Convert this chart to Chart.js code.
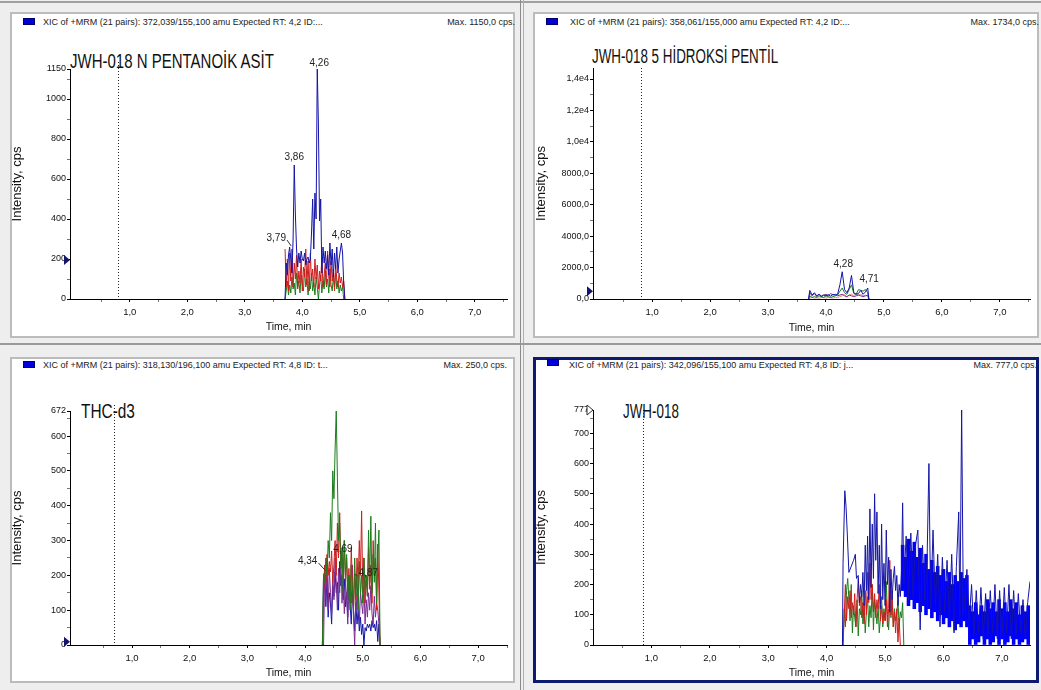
<!DOCTYPE html>
<html>
<head>
<meta charset="utf-8">
<script src="https://cdn.jsdelivr.net/npm/chart.js@4.4.0/dist/chart.umd.min.js"></script>
<style>
  body { margin:0; width:1041px; height:690px; overflow:hidden; position:relative; background:#eeeeee; font-family:"Liberation Sans", Arial, sans-serif; }
  .panel { position:absolute; box-sizing:border-box; background:#fff; border:2px solid #bcbcbc; }
  .panel.sel { border:3px solid #0d1a70; }
  .sq { position:absolute; width:12px; height:7px; box-sizing:border-box; background:#0000dd; border:1px solid #00006a; }
  .hdr { position:absolute; font-size:9px; line-height:10px; color:#222; white-space:nowrap; }
  .name { position:absolute; font-size:20px; line-height:20px; color:#111; white-space:nowrap; transform-origin:0 0; }
  .sep { position:absolute; background:#8a8a8a; }
  canvas { position:absolute; }
</style>
</head>
<body>
<div class="sep" style="left:0;top:1px;width:1041px;height:2px;background:#a0a0a0"></div>
<div class="sep" style="left:520px;top:0;width:1px;height:690px"></div>
<div class="sep" style="left:523px;top:0;width:1px;height:690px;background:#b0b0b0"></div>
<div class="sep" style="left:0;top:343px;width:1041px;height:2px;background:#9a9a9a"></div>

<div class="panel" style="left:10px;top:12px;width:505px;height:326px"></div>
<div class="panel" style="left:533px;top:12px;width:506px;height:326px"></div>
<div class="panel" style="left:10px;top:357px;width:505px;height:326px"></div>
<div class="panel sel" style="left:533px;top:357px;width:506px;height:326px"></div>

<div class="sq" style="left:23px;top:18px"></div>
<div class="hdr" style="left:43px;top:17px">XIC of +MRM (21 pairs): 372,039/155,100 amu Expected RT: 4,2 ID:...</div>
<div class="hdr" style="right:526px;top:17px">Max. 1150,0 cps.</div>
<div class="name" style="left:70px;top:51px;transform:scaleX(0.75)">JWH-018 N PENTANOİK ASİT</div>

<div class="sq" style="left:546px;top:18px"></div>
<div class="hdr" style="left:570px;top:17px">XIC of +MRM (21 pairs): 358,061/155,000 amu Expected RT: 4,2 ID:...</div>
<div class="hdr" style="right:2px;top:17px">Max. 1734,0 cps.</div>
<div class="name" style="left:592px;top:46px;transform:scaleX(0.67)">JWH-018 5 HİDROKSİ PENTİL</div>

<div class="sq" style="left:23px;top:361px"></div>
<div class="hdr" style="left:43px;top:360px">XIC of +MRM (21 pairs): 318,130/196,100 amu Expected RT: 4,8 ID: t...</div>
<div class="hdr" style="right:534px;top:360px">Max. 250,0 cps.</div>
<div class="name" style="left:81px;top:401px;transform:scaleX(0.77)">THC-d3</div>

<div class="sq" style="left:547px;top:359px"></div>
<div class="hdr" style="left:569px;top:360px">XIC of +MRM (21 pairs): 342,096/155,100 amu Expected RT: 4,8 ID: j...</div>
<div class="hdr" style="right:4px;top:360px">Max. 777,0 cps.</div>
<div class="name" style="left:623px;top:401px;transform:scaleX(0.67)">JWH-018</div>

<canvas id="c1" width="505" height="326" style="left:10px;top:12px"></canvas>
<canvas id="c2" width="506" height="326" style="left:533px;top:12px"></canvas>
<canvas id="c3" width="505" height="326" style="left:10px;top:357px"></canvas>
<canvas id="c4" width="506" height="326" style="left:533px;top:357px"></canvas>

<script>
// Axis ticks shared by all panels
const xTicks = [0.5, 1, 1.5, 2, 2.5, 3, 3.5, 4, 4.5, 5, 5.5, 6, 6.5, 7, 7.5];
const xLabels = ['', '1,0', '', '2,0', '', '3,0', '', '4,0', '', '5,0', '', '6,0', '', '7,0', ''];

// Panel 1: JWH-018 N pentanoik asit
const p1Time = [3.70,3.72,3.74,3.76,3.78,3.80,3.82,3.84,3.86,3.88,3.90,3.92,3.94,3.96,3.98,4.00,4.02,4.04,4.06,4.08,4.10,4.12,4.14,4.16,4.18,4.20,4.22,4.24,4.26,4.28,4.30,4.32,4.34,4.36,4.38,4.40,4.42,4.44,4.46,4.48,4.50,4.52,4.54,4.56,4.58,4.60,4.62,4.64,4.66,4.68,4.70,4.72,4.74];
const p1Blue = [0,180,120,220,260,200,130,300,670,420,250,160,230,180,240,200,190,230,170,200,210,180,200,330,500,250,530,400,1150,880,390,500,130,260,180,240,150,220,120,280,170,250,110,230,150,260,130,200,240,280,230,80,0];
const p1Red = [250,60,200,40,230,90,250,60,180,100,220,50,140,80,200,40,160,110,250,70,190,40,230,90,150,60,200,100,170,50,140,90,210,60,120,180,70,240,110,60,190,90,150,40,170,100,60,130,80,110,60,90,0];
const p1Green = [0,40,90,20,70,30,110,50,80,20,130,60,90,30,120,70,40,150,60,100,20,90,50,130,40,80,20,110,60,0,70,120,30,90,50,140,60,100,30,150,70,40,110,60,130,50,90,30,70,40,60,0,0];
const p1YTicks = [0,100,200,300,400,500,600,700,800,900,1000,1100,1150];
const p1YLabels = ['0','','200','','400','','600','','800','','1000','','1150'];
const p1PeakTimes = [4.26, 3.86, 3.79, 4.68];
const p1PeakValues = [1150, 670, 260, 280];
const p1PeakTexts = ['4,26', '3,86', '3,79', '4,68'];

// Panel 2: JWH-018 5 hidroksi pentil
const p2Time = [3.70,3.72,3.76,3.80,3.84,3.88,3.92,3.96,4.00,4.04,4.08,4.12,4.16,4.20,4.24,4.28,4.32,4.36,4.40,4.44,4.48,4.52,4.56,4.60,4.64,4.68,4.72,4.74];
const p2Blue = [0,550,250,400,200,300,150,250,200,280,180,300,250,300,900,1734,600,400,700,1500,400,300,350,550,300,450,700,0];
const p2Purple = [0,400,200,350,150,300,200,250,300,200,350,250,300,200,250,300,200,150,250,200,150,200,250,200,150,200,250,0];
const p2Green = [0,200,100,150,100,200,150,100,200,150,100,150,200,250,500,700,400,300,600,900,350,300,600,550,500,600,400,0];
const p2Pink = [0,50,100,60,80,50,100,80,60,100,80,60,100,80,150,200,300,100,250,300,200,350,250,300,200,250,150,0];
const p2YTicks = [0,1000,2000,3000,4000,5000,6000,7000,8000,9000,10000,11000,12000,13000,14000];
const p2YLabels = ['0,0','','2000,0','','4000,0','','6000,0','','8000,0','','1,0e4','','1,2e4','','1,4e4'];
const p2PeakTimes = [4.28, 4.71];
const p2PeakValues = [1734, 700];
const p2PeakTexts = ['4,28', '4,71'];

// Panel 3: THC-d3
const p3Time = [4.30,4.32,4.34,4.36,4.38,4.40,4.42,4.44,4.46,4.48,4.50,4.52,4.54,4.56,4.58,4.60,4.62,4.64,4.66,4.68,4.70,4.72,4.74,4.76,4.78,4.80,4.82,4.84,4.86,4.88,4.90,4.92,4.94,4.96,4.98,5.00,5.02,5.04,5.06,5.08,5.10,5.12,5.14,5.16,5.18,5.20,5.22,5.24,5.26,5.28,5.30];
const p3Green = [0,200,180,250,200,300,250,380,300,500,420,560,672,480,300,350,220,280,150,300,200,260,130,200,100,230,160,110,250,140,200,100,240,150,200,120,250,160,200,140,330,180,370,150,260,180,350,120,250,330,0];
const p3Red = [0,150,230,180,260,200,240,210,270,180,230,300,200,350,250,380,220,270,200,300,180,250,150,220,120,280,180,100,200,130,250,180,300,200,385,150,250,120,200,140,280,160,230,120,300,200,250,100,290,150,0];
const p3Blue = [0,200,210,110,190,80,150,120,60,170,140,210,150,180,100,240,170,200,130,190,110,150,80,200,120,60,150,100,40,120,60,100,40,80,30,60,0,50,40,60,50,60,40,70,50,60,40,70,10,60,0];
const p3Purple = [0,0,200,130,250,100,220,150,90,200,130,250,180,100,220,150,260,120,200,90,180,140,60,200,150,120,230,80,0,150,100,180,60,150,120,90,170,60,130,80,150,100,170,90,60,140,80,120,100,60,0];
const p3YTicks = [0,50,100,150,200,250,300,350,400,450,500,550,600,650,672];
const p3YLabels = ['0','','100','','200','','300','','400','','500','','600','','672'];
const p3PeakTimes = [4.34, 4.69, 4.87];
const p3PeakValues = [210, 260, 200];
const p3PeakTexts = ['4,34', '4,69', '4,87'];

// Panel 4: JWH-018
const p4BlueTime = [4.27,4.28,4.31,4.33,4.35,4.38,4.42,4.46,4.49,4.51,4.54,4.56,4.58,4.60,4.62,4.64,4.66,4.68,4.70,4.72,4.74,4.76,4.78,4.80,4.82,4.84,4.86,4.88,4.90,4.92,4.94,4.96,4.98,5.00,5.02,5.04,5.06,5.08,5.10,5.12,5.14,5.16,5.18,5.20,5.22,5.24,5.26,5.28,5.30,5.32,5.36,5.40,5.44,5.48,5.52,5.56,5.60,5.64,5.68,5.72,5.75,5.78,5.82,5.86,5.90,5.94,5.98,6.02,6.06,6.10,6.14,6.18,6.22,6.26,6.28,6.31,6.34,6.40,6.44,6.48,6.52,6.56,6.60,6.64,6.68,6.72,6.76,6.80,6.84,6.88,6.92,6.96,7.00,7.04,7.08,7.12,7.16,7.20,7.24,7.28,7.32,7.36,7.40,7.44,7.48,7.50];
const p4Blue = [0,270,510,460,380,240,260,280,300,220,230,140,200,160,240,130,330,180,360,150,450,190,400,220,500,280,440,170,330,120,400,150,270,130,380,200,290,110,250,150,220,260,180,230,130,200,160,240,470,200,360,150,370,160,330,380,50,330,140,300,600,120,380,130,300,60,290,110,280,90,300,40,260,440,90,777,100,250,80,200,30,180,40,190,20,170,30,180,40,200,20,180,30,190,40,200,20,180,30,170,40,150,20,140,210,20];
const p4BandTime = [5.30,5.35,5.40,5.45,5.50,5.55,5.60,5.65,5.70,5.75,5.80,5.85,5.90,5.95,6.00,6.05,6.10,6.15,6.20,6.25,6.30,6.35,6.40,6.45,6.50,6.55,6.60,6.65,6.70,6.75,6.80,6.85,6.90,6.95,7.00,7.05,7.10,7.15,7.20,7.25,7.30,7.35,7.40,7.45,7.50];
const p4BandHigh = [330,290,350,310,340,290,320,270,300,250,280,240,260,230,250,210,240,200,230,210,240,220,230,130,110,140,100,130,110,150,120,140,110,150,120,140,110,150,120,140,100,130,110,130,120];
const p4BandLow = [180,160,130,150,120,140,110,130,100,120,90,110,80,100,70,90,60,80,50,70,60,80,60,0,20,0,10,30,0,20,0,10,30,0,20,0,10,30,0,20,0,10,20,0,10];
const p4RedTime = [4.28,4.30,4.32,4.34,4.36,4.38,4.40,4.42,4.44,4.46,4.48,4.50,4.52,4.54,4.56,4.58,4.60,4.62,4.64,4.66,4.68,4.70,4.72,4.74,4.76,4.78,4.80,4.82,4.84,4.86,4.88,4.90,4.92,4.94,4.96,4.98,5.00,5.02,5.04,5.06,5.08,5.10,5.12,5.14,5.16,5.18,5.20,5.22,5.24,5.26];
const p4Red = [0,100,200,80,160,120,180,90,140,100,170,60,150,220,130,160,90,140,70,180,100,240,140,270,150,200,110,170,90,150,120,200,80,130,70,110,80,150,60,120,280,100,150,60,110,40,120,10,90,0];
const p4GreenTime = [4.28,4.30,4.32,4.34,4.36,4.38,4.40,4.42,4.44,4.46,4.48,4.50,4.52,4.54,4.56,4.58,4.60,4.62,4.64,4.66,4.68,4.70,4.72,4.74,4.76,4.78,4.80,4.82,4.84,4.86,4.88,4.90,4.92,4.94,4.96,4.98,5.00,5.02,5.04,5.06,5.08,5.10,5.12,5.14,5.16,5.18,5.20,5.22,5.24,5.26,5.28,5.30,5.32];
const p4Green = [0,120,60,180,220,150,80,200,40,130,90,60,150,30,120,100,180,70,140,40,110,160,60,130,90,200,50,150,110,70,130,40,90,160,60,120,80,210,100,50,140,90,180,60,120,80,100,150,60,110,90,140,0];
const p4YTicks = [0,50,100,150,200,250,300,350,400,450,500,550,600,650,700,750,777];
const p4YLabels = ['0','','100','','200','','300','','400','','500','','600','','700','','777'];

// Vertical dotted marker and y-axis triangle per panel
const dottedTimes = [0.80, 0.81, 0.69, 0.85];
const markerValues = [195, 500, 9, 777];

const BLUE = '#1414a8', RED = '#d01c1c', GREEN = '#1c7c1c', PURPLE = '#7b2d8e', PINK = '#e08a8a', BAND = '#0000ff';

Chart.defaults.font.family = '"Liberation Sans", Arial, sans-serif';

function pts(t, v) {
    return t.map((x, i) => ({ x: x, y: v[i] }));
}

function line(t, v, color) {
    return {
        data: pts(t, v),
        borderColor: color,
        backgroundColor: color,
        borderWidth: 1,
        pointRadius: 0,
        tension: 0,
        fill: false
    };
}

// Dense noisy region drawn as a floating bar band (low..high per sample)
function band(t, lo, hi, color) {
    return {
        type: 'bar',
        data: t.map((x, i) => ({ x: x, y: [lo[i], hi[i]] })),
        backgroundColor: color,
        borderWidth: 0,
        barPercentage: 1,
        categoryPercentage: 1,
        grouped: false
    };
}

// Draws the dotted RT line, the axis triangle and the peak labels
const chromPlugin = {
    id: 'chrom',
    beforeDatasetsDraw(chart, args, o) {
        const { ctx, chartArea, scales } = chart;
        const x = Math.round(scales.x.getPixelForValue(o.dotX)) + 0.5;
        ctx.save();
        ctx.strokeStyle = '#222';
        ctx.lineWidth = 1;
        ctx.setLineDash([1, 2]);
        ctx.beginPath();
        ctx.moveTo(x, chartArea.top - o.dotRise);
        ctx.lineTo(x, chartArea.bottom);
        ctx.stroke();
        ctx.restore();
    },
    afterDatasetsDraw(chart, args, o) {
        const { ctx, chartArea, scales } = chart;
        ctx.save();
        // triangle on the y axis
        const my = scales.y.getPixelForValue(o.marker);
        const mx = chartArea.left;
        ctx.beginPath();
        ctx.moveTo(mx - 6, my - 5);
        ctx.lineTo(mx, my);
        ctx.lineTo(mx - 6, my + 5);
        ctx.closePath();
        if (o.hollow) {
            ctx.fillStyle = '#fff';
            ctx.fill();
            ctx.strokeStyle = '#333';
            ctx.lineWidth = 1;
            ctx.stroke();
        } else {
            ctx.fillStyle = '#14146e';
            ctx.fill();
        }
        // peak labels
        ctx.font = '10px "Liberation Sans", Arial, sans-serif';
        ctx.fillStyle = '#222';
        ctx.strokeStyle = '#333';
        ctx.lineWidth = 1;
        ctx.textAlign = 'center';
        ctx.textBaseline = 'middle';
        (o.times || []).forEach((t, i) => {
            const px = scales.x.getPixelForValue(t);
            const py = scales.y.getPixelForValue(o.values[i]);
            const [dx, dy, lead] = o.offsets[i];
            ctx.fillText(o.texts[i], px + dx, py + dy);
            if (lead) {
                const w = ctx.measureText(o.texts[i]).width;
                const sx = px + dx - Math.sign(dx) * (w / 2 + 1);
                ctx.beginPath();
                ctx.moveTo(sx, py + dy + 2);
                ctx.lineTo(px - Math.sign(dx), py - 1);
                ctx.stroke();
            }
        });
        ctx.restore();
    }
};

function buildChart(id, o) {
    const tickShade = (labels, ticks) => c => {
        const i = ticks.indexOf(c.tick ? c.tick.value : NaN);
        return i >= 0 && labels[i] ? '#000' : '#777';
    };
    return new Chart(document.getElementById(id), {
        type: 'line',
        data: { datasets: o.datasets },
        options: {
            responsive: false,
            animation: false,
            events: [],
            layout: { padding: o.pad },
            plugins: {
                legend: { display: false },
                tooltip: { enabled: false },
                chrom: o.chrom
            },
            scales: {
                x: {
                    type: 'linear',
                    min: o.xMin,
                    max: o.xMax,
                    offset: false,
                    afterBuildTicks: s => {
                        s.ticks = xTicks.filter(v => v >= o.xMin && v <= o.xMax).map(v => ({ value: v }));
                    },
                    afterFit: s => { s.height = o.xH; },
                    ticks: {
                        autoSkip: false,
                        maxRotation: 0,
                        padding: 5,
                        color: '#111',
                        font: { size: 9.5 },
                        callback: v => xLabels[xTicks.indexOf(v)] || ''
                    },
                    grid: { offset: false, drawOnChartArea: false, drawTicks: true, tickLength: 3, tickColor: tickShade(xLabels, xTicks) },
                    border: { color: '#000', width: 1 },
                    title: { display: true, text: 'Time, min', color: '#111', font: { size: 10.5 }, padding: { top: 0, bottom: o.xTitlePad } }
                },
                y: {
                    type: 'linear',
                    min: 0,
                    max: o.yMax,
                    afterBuildTicks: s => {
                        s.ticks = o.yTicks.map(v => ({ value: v }));
                    },
                    afterFit: s => { s.width = 60; },
                    ticks: {
                        autoSkip: false,
                        padding: 1,
                        color: '#111',
                        font: { size: 9 },
                        callback: v => o.yLabels[o.yTicks.indexOf(v)] || ''
                    },
                    grid: { drawOnChartArea: false, drawTicks: true, tickLength: 3, tickColor: tickShade(o.yLabels, o.yTicks) },
                    border: { color: '#000', width: 1 },
                    title: { display: true, text: 'Intensity, cps', color: '#111', font: { size: 13 }, padding: { top: o.yTitlePad, bottom: 0 } }
                }
            }
        },
        plugins: [chromPlugin]
    });
}

buildChart('c1', {
    xMin: -0.04, xMax: 7.56, yMax: 1150, yTicks: p1YTicks, yLabels: p1YLabels,
    pad: { left: 0, top: 57, right: 8, bottom: 0 }, xH: 39, xTitlePad: 5, yTitlePad: 0,
    datasets: [
        line(p1Time, p1Blue, BLUE),
        line(p1Time, p1Red, RED),
        line(p1Time, p1Green, GREEN)
    ],
    chrom: {
        dotX: dottedTimes[0], dotRise: 7, marker: markerValues[0], hollow: false,
        times: p1PeakTimes, values: p1PeakValues, texts: p1PeakTexts,
        offsets: [[2, -6], [0, -8], [-14, -9, true], [0, -8]]
    }
});

buildChart('c2', {
    xMin: -0.02, xMax: 7.52, yMax: 14700, yTicks: p2YTicks, yLabels: p2YLabels,
    pad: { left: 0, top: 56, right: 9, bottom: 0 }, xH: 39, xTitlePad: 4, yTitlePad: 1,
    datasets: [
        line(p2Time, p2Blue, BLUE),
        line(p2Time, p2Green, GREEN),
        line(p2Time, p2Purple, PURPLE),
        line(p2Time, p2Pink, PINK)
    ],
    chrom: {
        dotX: dottedTimes[1], dotRise: 0, marker: markerValues[1], hollow: false,
        times: p2PeakTimes, values: p2PeakValues, texts: p2PeakTexts,
        offsets: [[1, -8], [2, -9]]
    }
});

buildChart('c3', {
    xMin: -0.075, xMax: 7.50, yMax: 672, yTicks: p3YTicks, yLabels: p3YLabels,
    pad: { left: 0, top: 54, right: 8, bottom: 0 }, xH: 38, xTitlePad: 4, yTitlePad: 0,
    datasets: [
        line(p3Time, p3Green, GREEN),
        line(p3Time, p3Red, RED),
        line(p3Time, p3Purple, PURPLE),
        line(p3Time, p3Blue, BLUE)
    ],
    chrom: {
        dotX: dottedTimes[2], dotRise: 6, marker: markerValues[2], hollow: false,
        times: p3PeakTimes, values: p3PeakValues, texts: p3PeakTexts,
        offsets: [[-17, -11, true], [-2, -5], [13, -2, true]]
    }
});

buildChart('c4', {
    xMin: 0, xMax: 7.48, yMax: 777, yTicks: p4YTicks, yLabels: p4YLabels,
    pad: { left: 0, top: 53, right: 9, bottom: 0 }, xH: 38, xTitlePad: 4, yTitlePad: 1,
    datasets: [
        line(p4BlueTime, p4Blue, BLUE),
        band(p4BandTime, p4BandLow, p4BandHigh, BAND),
        line(p4RedTime, p4Red, RED),
        line(p4GreenTime, p4Green, GREEN)
    ],
    chrom: {
        dotX: dottedTimes[3], dotRise: 0, marker: markerValues[3], hollow: true,
        times: [], values: [], texts: [], offsets: []
    }
});
</script>
</body>
</html>
